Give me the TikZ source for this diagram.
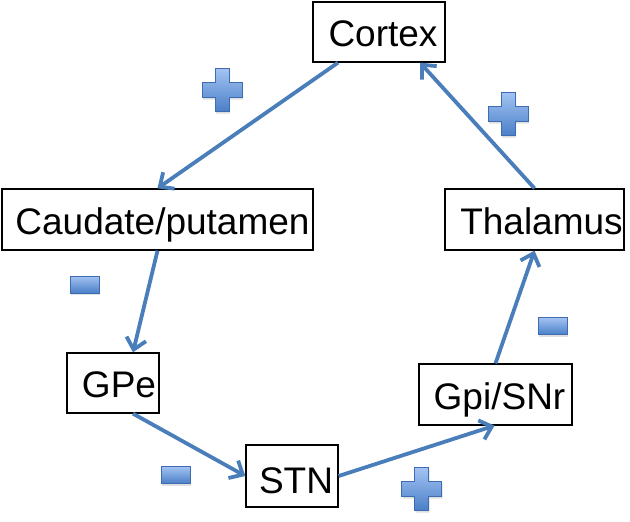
\documentclass[tikz,border=0pt]{standalone}
\usepackage{fontspec}
\setmainfont{Liberation Sans}
\usetikzlibrary{arrows.meta,shadows}
\definecolor{arrowblue}{HTML}{4A7EBB}
\definecolor{symtop}{HTML}{A3C3F2}
\definecolor{symbot}{HTML}{4A7FC8}
\definecolor{symedge}{HTML}{3D6CB0}
\tikzset{
  box/.style={draw=black, line width=1.3pt, fill=white, inner sep=0pt,
    text height=29pt, text depth=0pt, font=\fontsize{37}{41}\selectfont},
  link/.style={draw=arrowblue, line width=3.8pt,
    -{Straight Barb[length=11pt,width=20pt]}},
  sym/.style={draw=symedge, line width=0.8pt, top color=symtop, bottom color=symbot,
    drop shadow={opacity=0.25, shadow xshift=1pt, shadow yshift=-2pt}},
  pics/plussign/.style={code={
    \path[sym] (-20,-7.5) -- (-7,-7.5) -- (-7,-21.5) -- (7,-21.5) -- (7,-7.5) -- (20,-7.5)
      -- (20,7.5) -- (7,7.5) -- (7,21.5) -- (-7,21.5) -- (-7,7.5) -- (-20,7.5) -- cycle;}},
  pics/minussign/.style={code={
    \path[sym] (-14.5,-8.5) rectangle (14.5,8.5);}}
}
\begin{document}
\begin{tikzpicture}[x=1pt,y=-1pt]
\useasboundingbox (0,0) rectangle (630,522);

\node[box, minimum width=132pt, minimum height=60pt] (cortex) at (379,32) {\hspace*{8pt}Cortex};
\node[box, minimum width=311pt, minimum height=61pt] (caud) at (157.5,219.5) {\hspace*{10pt}Caudate/putamen};
\node[box, minimum width=179pt, minimum height=61pt] (thal) at (534.5,219.5) {\hspace*{14pt}Thalamus};
\node[box, minimum width=92pt, minimum height=60pt] (gpe) at (113,383) {\hspace*{12pt}GPe};
\node[box, minimum width=92pt, minimum height=62pt] (stn) at (292,476) {\hspace*{8pt}\raisebox{-3pt}{STN}};
\node[box, minimum width=153pt, minimum height=61pt] (gpi) at (495.5,394.5) {\hspace*{8pt}Gpi/SNr};

\draw[link] ([xshift=-41pt]cortex.south) -- (caud.north);
\draw[link] (caud.south) -- ([xshift=20pt]gpe.north);
\draw[link] ([xshift=20pt]gpe.south) -- (stn.west);
\draw[link] (stn.east) -- ([xshift=-1pt]gpi.south);
\draw[link] (gpi.north) -- (thal.south);
\draw[link] (thal.north) -- ([xshift=41pt]cortex.south);

\pic at (222,90) {plussign};
\pic at (508,114) {plussign};
\pic at (421.5,489) {plussign};
\pic at (84.5,284.5) {minussign};
\pic at (552.5,326) {minussign};
\pic at (175.5,475) {minussign};
\end{tikzpicture}
\end{document}
